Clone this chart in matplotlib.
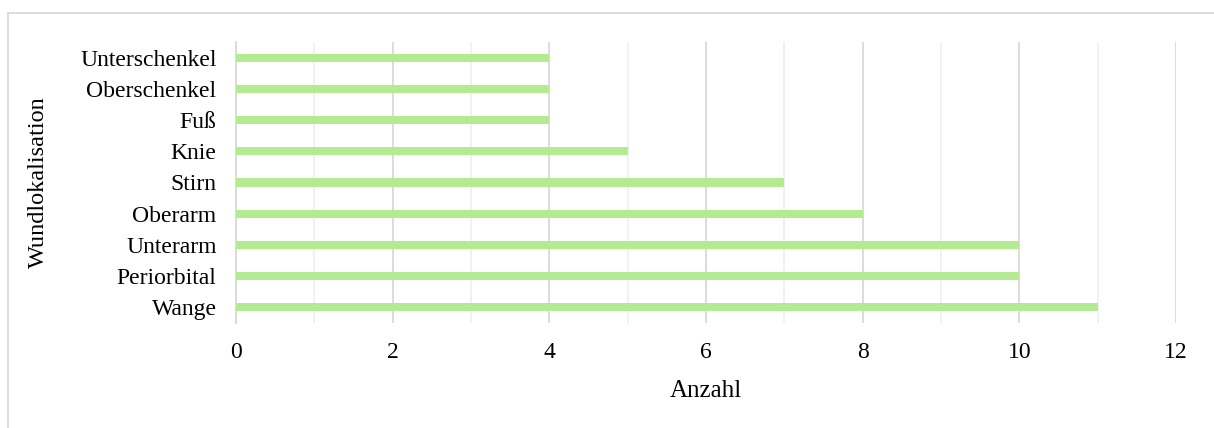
import matplotlib
matplotlib.use("Agg")
import matplotlib.pyplot as plt
from matplotlib.lines import Line2D
from matplotlib.ticker import MultipleLocator

categories = ["Wange", "Periorbital", "Unterarm", "Oberarm", "Stirn",
              "Knie", "Fuß", "Oberschenkel", "Unterschenkel"]
counts = [11, 10, 10, 8, 7, 5, 4, 4, 4]
x_ticks = [0, 2, 4, 6, 8, 10, 12]

plt.rcParams["font.family"] = ["Liberation Serif", "DejaVu Serif"]

W, H = 1214, 428
fig = plt.figure(figsize=(W / 100, H / 100), dpi=100)
ax = fig.add_axes([236 / W, 1 - 323 / H, (1176 - 236) / W, (323 - 42) / H])

ax.barh(range(len(categories)), counts, height=0.26, color="#b4ea92", zorder=3)

ax.set_xlim(0, 12)
ax.set_ylim(-0.5, len(categories) - 0.5)
ax.set_xticks(x_ticks)
ax.xaxis.set_minor_locator(MultipleLocator(1))
ax.set_yticks(range(len(categories)))
ax.set_yticklabels(categories)

ax.grid(axis="x", which="major", color="#d9d9d9", linewidth=1.3, zorder=0)
ax.grid(axis="x", which="minor", color="#f0f0f0", linewidth=1.3, zorder=0)
ax.tick_params(axis="both", which="both", length=0, labelsize=17, colors="black")
ax.tick_params(axis="x", pad=14)
ax.tick_params(axis="y", pad=14)
for s in ["top", "right", "bottom"]:
    ax.spines[s].set_visible(False)
ax.spines["left"].set_color("#d9d9d9")
ax.spines["left"].set_linewidth(1.3)

ax.set_xlabel("Anzahl", fontsize=18, labelpad=12)
fig.text(38 / W, 1 - 182 / H, "Wundlokalisation", rotation=90,
         ha="center", va="center", fontsize=17.5)

# outer frame (top and left edges)
fig.add_artist(Line2D([8 / W, 1.0], [1 - 13 / H, 1 - 13 / H],
                      transform=fig.transFigure, color="#d9d9d9", linewidth=1.3))
fig.add_artist(Line2D([8 / W, 8 / W], [1 - 13 / H, 0.0],
                      transform=fig.transFigure, color="#d9d9d9", linewidth=1.3))

fig.savefig("out.png", dpi=100, facecolor="white")
